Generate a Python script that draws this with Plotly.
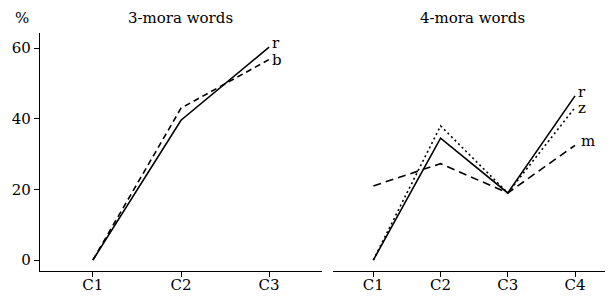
import plotly.graph_objects as go

cats3 = ["C1", "C2", "C3"]
cats4 = ["C1", "C2", "C3", "C4"]
r3 = [0, 39.6, 60.3]
b3 = [0, 43.0, 56.8]
r4 = [0, 34.5, 19.0, 46.5]
z4 = [0, 38.0, 19.0, 43.2]
m4 = [21.0, 27.3, 19.0, 32.5]
yticks = [0, 20, 40, 60]

FONT = "DejaVu Serif"
OFF = 8  # page body margin
W, H = 613 - OFF, 298 - OFF

def px(v): return (v - OFF) / W
def py(v): return 1 - (v - OFF) / H

fig = go.Figure()
lw = 1.6
fig.add_trace(go.Scatter(x=cats3, y=r3, mode="lines", line=dict(color="black", width=lw), xaxis="x", yaxis="y"))
fig.add_trace(go.Scatter(x=cats3, y=b3, mode="lines", line=dict(color="black", width=lw, dash="6px,4px"), xaxis="x", yaxis="y"))
fig.add_trace(go.Scatter(x=cats4, y=r4, mode="lines", line=dict(color="black", width=lw), xaxis="x2", yaxis="y2"))
fig.add_trace(go.Scatter(x=cats4, y=z4, mode="lines", line=dict(color="black", width=lw, dash="2px,3px"), xaxis="x2", yaxis="y2"))
fig.add_trace(go.Scatter(x=cats4, y=m4, mode="lines", line=dict(color="black", width=lw, dash="8px,5px"), xaxis="x2", yaxis="y2"))

ann = []
def lab(txt, x, y, xa, ya, dy=0, dx=1):
    ann.append(dict(text=txt, x=x, y=y, xref=xa, yref=ya, xanchor="left", yanchor="middle",
                    xshift=dx, yshift=dy, showarrow=False, font=dict(family=FONT, size=15, color="black")))
lab("r", cats3[-1], r3[-1], "x", "y", 4)
lab("b", cats3[-1], b3[-1], "x", "y", -1)
lab("r", cats4[-1], r4[-1], "x2", "y2", 4)
lab("z", cats4[-1], z4[-1], "x2", "y2", 0)
lab("m", cats4[-1], m4[-1], "x2", "y2", 4, 4)

tf = dict(family=FONT, size=15, color="black")
ann.append(dict(text="%", x=px(22), y=py(18), xref="paper", yref="paper", xanchor="center", yanchor="middle",
                showarrow=False, font=tf))
ann.append(dict(text="3-mora words", x=px(180), y=py(18), xref="paper", yref="paper", xanchor="center",
                yanchor="middle", showarrow=False, font=tf))
ann.append(dict(text="4-mora words", x=px(472), y=py(18), xref="paper", yref="paper", xanchor="center",
                yanchor="middle", showarrow=False, font=tf))

axfont = dict(family=FONT, size=15, color="black")
yd = [py(271), py(33)]
fig.update_layout(
    width=W, height=H, margin=dict(l=0, r=0, t=0, b=0),
    paper_bgcolor="white", plot_bgcolor="white", showlegend=False,
    annotations=ann,
    xaxis=dict(domain=[px(40), px(322)], range=[-0.6, 2.6], showline=True, linecolor="black", linewidth=1.2,
               ticks="outside", ticklen=5, tickcolor="black", tickfont=axfont, showgrid=False, zeroline=False,
               ticklabelstandoff=-5),
    yaxis=dict(domain=yd, range=[-3.1, 64.3], tickvals=yticks, showline=True, linecolor="black", linewidth=1.2,
               ticks="outside", ticklen=5, tickcolor="black", tickfont=axfont, showgrid=False, zeroline=False),
    xaxis2=dict(domain=[px(333), px(612)], range=[-0.6, 3.55], anchor="y2", showline=True, linecolor="black", linewidth=1.2,
                ticks="outside", ticklen=5, tickcolor="black", tickfont=axfont, showgrid=False, zeroline=False,
                ticklabelstandoff=-5),
    yaxis2=dict(domain=yd, range=[-3.1, 64.3], anchor="x2", showline=False, showticklabels=False, ticks="",
                showgrid=False, zeroline=False),
)
fig.write_html("out.html")
